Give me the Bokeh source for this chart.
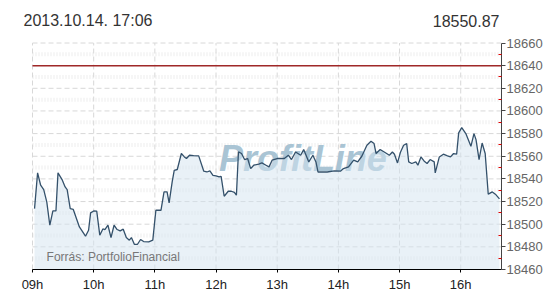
from bokeh.plotting import figure
from bokeh.models import Range1d, FixedTicker, Label
from bokeh.core.properties import value
from bokeh.embed import file_html
from bokeh.resources import INLINE

# ---- data ----
times = ["09:02", "09:05", "09:08", "09:11", "09:14", "09:17", "09:20", "09:23", "09:25", "09:29",
         "09:32", "09:34", "09:37", "09:40", "09:46", "09:52", "09:55", "09:57", "10:00", "10:03",
         "10:06", "10:09", "10:11", "10:14", "10:17", "10:20", "10:23", "10:26", "10:29", "10:32",
         "10:35", "10:37", "10:40", "10:43", "10:46", "10:49", "10:54", "10:58", "11:01", "11:06",
         "11:09", "11:12", "11:14", "11:17", "11:19", "11:22", "11:26", "11:29", "11:31", "11:34",
         "11:38", "11:43", "11:48", "11:51", "11:54", "11:57", "12:00", "12:03", "12:05", "12:08",
         "12:12", "12:15", "12:18", "12:20", "12:22", "12:25", "12:28", "12:31", "12:34", "12:37",
         "12:42", "12:45", "12:49", "12:52", "12:55", "13:00", "13:07", "13:11", "13:14", "13:18",
         "13:23", "13:26", "13:31", "13:35", "13:38", "13:40", "13:49", "13:56", "14:02", "14:05",
         "14:10", "14:15", "14:19", "14:23", "14:28", "14:32", "14:35", "14:37", "14:41", "14:45",
         "14:50", "14:53", "14:55", "14:58", "15:01", "15:04", "15:07", "15:09", "15:12", "15:16",
         "15:18", "15:21", "15:24", "15:27", "15:30", "15:34", "15:35", "15:39", "15:43", "15:47",
         "15:50", "15:53", "15:56", "15:58", "16:01", "16:05", "16:10", "16:13", "16:15", "16:18",
         "16:21", "16:24", "16:27", "16:31", "16:34", "16:38"]
values = [18513.8, 18545.3, 18534.4, 18530.6, 18519.7, 18499.1, 18511.7, 18511.7, 18545.3, 18539.4,
          18532.9, 18530.6, 18513.8, 18513.0, 18497.6, 18489.4, 18494.7, 18510.0, 18511.7, 18511.5,
          18490.3, 18495.8, 18495.3, 18499.1, 18488.2, 18499.1, 18495.3, 18494.1, 18495.6, 18488.2,
          18485.9, 18488.2, 18482.1, 18482.3, 18486.5, 18484.7, 18484.4, 18485.9, 18512.3, 18512.3,
          18528.5, 18528.5, 18518.8, 18537.3, 18547.6, 18548.3, 18562.4, 18559.4, 18558.0, 18560.9,
          18560.6, 18560.3, 18546.8, 18546.1, 18547.0, 18543.2, 18542.6, 18541.7, 18542.3, 18524.7,
          18529.1, 18529.1, 18528.2, 18525.6, 18563.8, 18562.4, 18557.1, 18558.0, 18549.1, 18552.1,
          18553.0, 18554.1, 18552.1, 18550.6, 18556.5, 18558.0, 18558.0, 18560.9, 18557.1, 18563.8,
          18560.9, 18565.9, 18555.0, 18560.9, 18555.0, 18546.1, 18546.1, 18547.0, 18546.8, 18549.1,
          18550.6, 18556.5, 18555.0, 18560.0, 18569.7, 18573.2, 18571.2, 18562.4, 18565.9, 18563.8,
          18560.9, 18563.8, 18561.8, 18554.1, 18563.8, 18569.7, 18571.2, 18555.0, 18553.6, 18555.0,
          18552.1, 18559.4, 18555.9, 18553.6, 18557.1, 18555.0, 18545.3, 18559.4, 18561.8, 18560.3,
          18559.4, 18562.4, 18561.8, 18580.6, 18585.3, 18580.0, 18568.8, 18580.0, 18574.7, 18557.1,
          18571.7, 18562.4, 18526.5, 18528.5, 18526.5, 18522.3]
hour_ticks = [9, 10, 11, 12, 13, 14, 15, 16]
hour_labels = ["09h", "10h", "11h", "12h", "13h", "14h", "15h", "16h"]
y_ticks = [18460, 18480, 18500, 18520, 18540, 18560, 18580, 18600, 18620, 18640, 18660]
y_minor = [18470, 18490, 18510, 18530, 18550, 18570, 18590, 18610, 18630, 18650]
ref_level = 18640
header_left = "2013.10.14. 17:06"
header_right = "18550.87"
source_text = "Forrás: PortfolioFinancial"
watermark = "ProfitLine"


def to_hours(s):
    h, m = s.split(":")
    return int(h) + int(m) / 60.0


x = [to_hours(t) for t in times]
x_lo = hour_ticks[0]
x_end = 16 + 40 / 60.0
y_lo, y_hi = y_ticks[0], y_ticks[-1]
# the frame reaches the top and left canvas edges so the header texts can sit inside it;
# the chart body itself spans 469 x 226.5 px
x_start = x_lo - (x_end - x_lo) * 32.0 / 469.0
y_top = y_lo + (y_hi - y_lo) * 269.0 / 226.5
FONT = "Liberation Sans"

p = figure(width=550, height=300, x_range=Range1d(x_start, x_end), y_range=Range1d(y_lo, y_top),
           y_axis_location="right", toolbar_location=None, output_backend="svg",
           min_border_left=0, min_border_right=49, min_border_top=0, min_border_bottom=31)
p.outline_line_color = None
p.background_fill_color = "white"
p.border_fill_color = "white"

# grid lines drawn as segments limited to the chart body
p.xgrid.grid_line_color = None
p.ygrid.grid_line_color = None
p.segment(x0=x_lo, y0=y_minor, x1=x_end, y1=y_minor, line_color="#ececec",
          line_width=4, line_dash="1 2", level="underlay")
p.segment(x0=x_lo, y0=y_ticks, x1=x_end, y1=y_ticks, line_color="#d8d8d8",
          line_dash="5 3", line_width=1, level="underlay")
p.segment(x0=hour_ticks, y0=y_lo, x1=hour_ticks, y1=y_hi, line_color="#d8d8d8",
          line_dash="5 3", line_width=1, level="underlay")

# x axis
xa = p.xaxis[0]
xa.ticker = FixedTicker(ticks=hour_ticks)
xa.bounds = (x_lo, x_end)
xa.major_label_overrides = {t: l for t, l in zip(hour_ticks, hour_labels)}
xa.axis_line_color = "#000000"
xa.axis_line_width = 1
xa.major_tick_line_color = "#000000"
xa.major_tick_out = 3
xa.major_tick_in = 0
xa.minor_tick_line_color = None
xa.major_label_text_font = FONT
xa.major_label_text_font_size = "13px"
xa.major_label_text_color = "#222222"
xa.major_label_standoff = 4

# y axis (right)
ya = p.yaxis[0]
ya.ticker = FixedTicker(ticks=y_ticks, minor_ticks=y_minor)
ya.bounds = (y_lo, y_hi)
ya.axis_line_color = "#444444"
ya.major_tick_line_color = "#444444"
ya.major_tick_out = 4
ya.major_tick_in = 0
ya.minor_tick_line_color = "#e00000"
ya.minor_tick_in = 3
ya.minor_tick_out = 0
ya.major_label_text_font = FONT
ya.major_label_text_font_size = "13px"
ya.major_label_text_color = "#666666"
ya.major_label_standoff = 1

# watermark under the area fill
p.text(x=[13.42], y=[18558], text=[watermark], text_font=value(FONT),
       text_font_style="bold italic", text_font_size="36px", text_color="#a9c4d4",
       text_align="center", text_baseline="middle")

p.varea(x=x, y1=y_lo, y2=values, fill_color="#d4e3ef", fill_alpha=0.5)
p.line(x=x, y=values, line_color="#34516b", line_width=1.3)

# reference level line
p.segment(x0=[x_lo], y0=[ref_level], x1=[x_end], y1=[ref_level], line_color="#a02828",
          line_width=1.5)

p.add_layout(Label(x=9.23, y=18471, text=source_text, text_font=FONT, text_font_size="12px",
                   text_color="#777777", text_baseline="middle"))
p.add_layout(Label(x=x_lo, y=18679.6, x_offset=-9, text=header_left, text_font=FONT,
                   text_font_size="16px", text_color="#333333", text_baseline="middle"))
p.add_layout(Label(x=x_end, y=18679.6, x_offset=-2, text=header_right, text_font=FONT,
                   text_font_size="16px", text_color="#333333", text_baseline="middle",
                   text_align="right"))

open("out.html", "w").write(file_html(p, INLINE))
